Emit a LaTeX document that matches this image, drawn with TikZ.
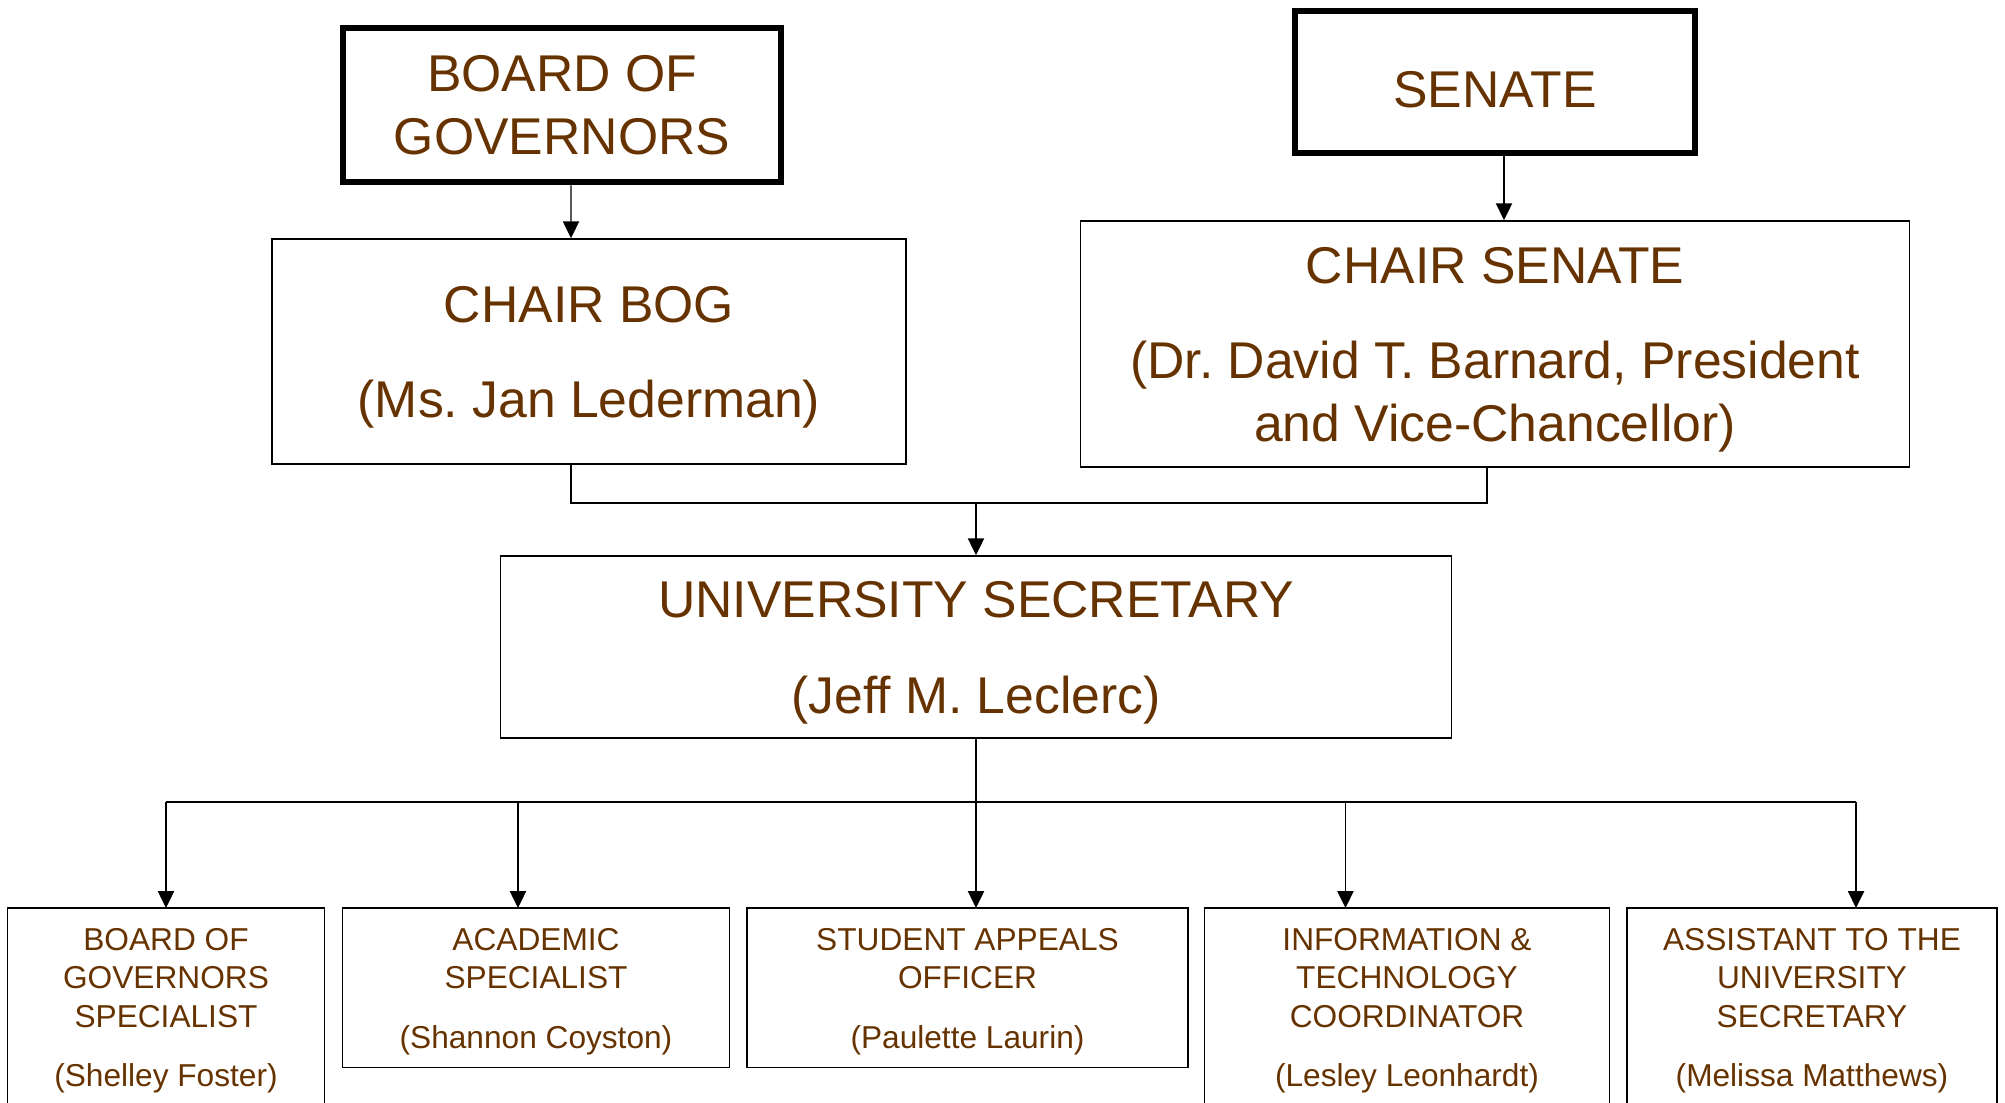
\documentclass[tikz,border=0pt]{standalone}
\usepackage[]{fontspec}
\setmainfont{Liberation Sans}
\usepackage[]{xcolor}
\usetikzlibrary{arrows.meta}
\usetikzlibrary{positioning}
\frenchspacing
\definecolor{govbrown}{RGB}{102,51,0}
\newcommand{\chairstrut}{\rule{0pt}{13.6pt}}
\newcommand{\staffstrut}{\rule{0pt}{8.3pt}}
\tikzset{topbox/.style = {draw, line width=1.9pt, text=govbrown, align=center, font=\fontsize{14.7}{17.9}\selectfont, inner sep=0}}
\tikzset{chairbox/.style = {draw, line width=0.4pt, text=govbrown, align=center, font=\fontsize{14.7}{17.9}\selectfont, inner sep=0}}
\tikzset{staffbox/.style = {draw, line width=0.4pt, text=govbrown, align=center, font=\fontsize{9}{11.05}\selectfont, anchor=north, inner xsep=0, inner ysep=0.128cm, outer sep=0}}
\tikzset{arr/.style = {line width=0.4pt, -{Triangle[length=4.8pt,width=4.6pt]}}}
\tikzset{bus/.style = {line width=0.6pt}}
\begin{document}
\begin{tikzpicture}[x=0.01cm, y=-0.01cm]
        \useasboundingbox (0,0) rectangle (2005,1103);
        \clip (0,0) rectangle (2005,1103);
        \node[topbox, minimum width=4.38cm, minimum height=1.54cm] (bog) at (562,105) {BOARD OF\\GOVERNORS};
        \node[topbox, minimum width=4.00cm, minimum height=1.42cm] (senate) at (1495,82) {\rule{0pt}{14.6pt}SENATE};
        \node[chairbox, minimum width=6.34cm, minimum height=2.25cm] (chairbog) at (589,351.5) {\chairstrut CHAIR BOG\\[9.2pt](Ms. Jan Lederman)};
        \node[chairbox, minimum width=8.28cm, minimum height=2.46cm] (chairsen) at (1495,344) {\chairstrut CHAIR SENATE\\[9.2pt](Dr. David T. Barnard, President\\and Vice-Chancellor)};
        \node[chairbox, minimum width=9.51cm, minimum height=1.82cm] (unisec) at (976,647) {\chairstrut UNIVERSITY SECRETARY\\[9.2pt](Jeff M. Leclerc)};
        \node[staffbox, minimum width=3.17cm] (bogspec) at (166,908) {\staffstrut BOARD OF\\GOVERNORS\\SPECIALIST\\[5.8pt](Shelley Foster)\\[20pt]\strut};
        \node[staffbox, minimum width=3.87cm] (acadspec) at (536,908) {\staffstrut ACADEMIC\\SPECIALIST\\[5.8pt](Shannon Coyston)};
        \node[staffbox, minimum width=4.41cm] (appeals) at (967.5,908) {\staffstrut STUDENT APPEALS\\OFFICER\\[5.8pt](Paulette Laurin)};
        \node[staffbox, minimum width=4.05cm] (infotech) at (1407,908) {\staffstrut INFORMATION \&\\TECHNOLOGY\\COORDINATOR\\[5.8pt](Lesley Leonhardt)\\[20pt]\strut};
        \node[staffbox, minimum width=3.70cm] (assistant) at (1812,908) {\staffstrut ASSISTANT TO THE\\UNIVERSITY\\SECRETARY\\[5.8pt](Melissa Matthews)\\[20pt]\strut};
        \coordinate (topbus) at (976,503);
        \coordinate (lowbus) at (976,802);
        \draw [arr] ([xshift=0.09cm]bog.south) -- ([xshift=-0.18cm]chairbog.north);
        \draw [arr] ([xshift=0.09cm]senate.south) -- ([xshift=0.09cm]chairsen.north);
        \draw [bus] ([xshift=-0.18cm]chairbog.south) |- (topbus) -| ([xshift=-0.08cm]chairsen.south);
        \draw [arr] (topbus) -- (unisec.north);
        \draw [bus] (unisec.south) -- (lowbus);
        \draw [bus] (bogspec.north |- lowbus) -- ([xshift=0.44cm]assistant.north |- lowbus);
        \foreach \b/\s in {bogspec/0, acadspec/-0.18, appeals/0.085, infotech/-0.615, assistant/0.44}
            \draw [arr] ([xshift=\s cm]\b.north |- lowbus) -- ([xshift=\s cm]\b.north);
    \end{tikzpicture}
\end{document}
